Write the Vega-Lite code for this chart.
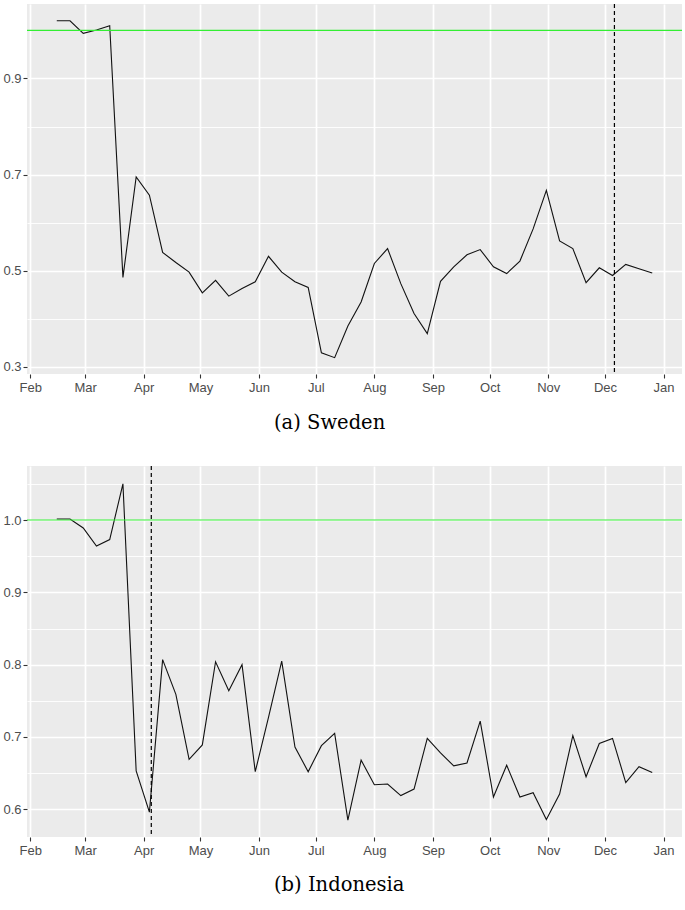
{
  "$schema": "https://vega.github.io/schema/vega-lite/v6.json",
  "background": "white",
  "padding": {"left": 2, "top": 3, "right": 3, "bottom": 5},
  "spacing": 32,
  "config": {
    "view": {"fill": "#EBEBEB", "stroke": null},
    "axis": {
      "domain": false,
      "labelColor": "#4D4D4D",
      "labelFont": "Liberation Sans",
      "labelFontSize": 13,
      "tickColor": "#333333",
      "tickSize": 4,
      "tickWidth": 1.1,
      "gridColor": "white",
      "labelPadding": 2,
      "labelOverlap": false,
      "labelFlush": false,
      "title": null
    },
    "title": {"font": "DejaVu Serif", "fontSize": 19.5, "fontWeight": "normal", "color": "black"}
  },
  "datasets": {
    "sweden": [
      {"date": "2020-02-15", "value": 1.020},
      {"date": "2020-02-22", "value": 1.020},
      {"date": "2020-02-29", "value": 0.994},
      {"date": "2020-03-07", "value": 1.001},
      {"date": "2020-03-14", "value": 1.010},
      {"date": "2020-03-21", "value": 0.486},
      {"date": "2020-03-28", "value": 0.695},
      {"date": "2020-04-04", "value": 0.657},
      {"date": "2020-04-11", "value": 0.538},
      {"date": "2020-04-18", "value": 0.517},
      {"date": "2020-04-25", "value": 0.497},
      {"date": "2020-05-02", "value": 0.454},
      {"date": "2020-05-09", "value": 0.480},
      {"date": "2020-05-16", "value": 0.447},
      {"date": "2020-05-23", "value": 0.463},
      {"date": "2020-05-30", "value": 0.477},
      {"date": "2020-06-06", "value": 0.530},
      {"date": "2020-06-13", "value": 0.497},
      {"date": "2020-06-20", "value": 0.477},
      {"date": "2020-06-27", "value": 0.465},
      {"date": "2020-07-04", "value": 0.329},
      {"date": "2020-07-11", "value": 0.319},
      {"date": "2020-07-18", "value": 0.385},
      {"date": "2020-07-25", "value": 0.435},
      {"date": "2020-08-01", "value": 0.515},
      {"date": "2020-08-08", "value": 0.546},
      {"date": "2020-08-15", "value": 0.473},
      {"date": "2020-08-22", "value": 0.411},
      {"date": "2020-08-29", "value": 0.369},
      {"date": "2020-09-05", "value": 0.478},
      {"date": "2020-09-12", "value": 0.508},
      {"date": "2020-09-19", "value": 0.533},
      {"date": "2020-09-26", "value": 0.544},
      {"date": "2020-10-03", "value": 0.508},
      {"date": "2020-10-10", "value": 0.494},
      {"date": "2020-10-17", "value": 0.520},
      {"date": "2020-10-24", "value": 0.587},
      {"date": "2020-10-31", "value": 0.667},
      {"date": "2020-11-07", "value": 0.562},
      {"date": "2020-11-14", "value": 0.546},
      {"date": "2020-11-21", "value": 0.475},
      {"date": "2020-11-28", "value": 0.506},
      {"date": "2020-12-05", "value": 0.490},
      {"date": "2020-12-12", "value": 0.513},
      {"date": "2020-12-19", "value": 0.504},
      {"date": "2020-12-26", "value": 0.495}
    ],
    "indonesia": [
      {"date": "2020-02-15", "value": 1.0015},
      {"date": "2020-02-22", "value": 1.0015},
      {"date": "2020-02-29", "value": 0.989},
      {"date": "2020-03-07", "value": 0.964},
      {"date": "2020-03-14", "value": 0.973},
      {"date": "2020-03-21", "value": 1.050},
      {"date": "2020-03-28", "value": 0.653},
      {"date": "2020-04-04", "value": 0.596},
      {"date": "2020-04-11", "value": 0.807},
      {"date": "2020-04-18", "value": 0.759},
      {"date": "2020-04-25", "value": 0.669},
      {"date": "2020-05-02", "value": 0.689},
      {"date": "2020-05-09", "value": 0.804},
      {"date": "2020-05-16", "value": 0.764},
      {"date": "2020-05-23", "value": 0.800},
      {"date": "2020-05-30", "value": 0.652},
      {"date": "2020-06-06", "value": 0.727},
      {"date": "2020-06-13", "value": 0.805},
      {"date": "2020-06-20", "value": 0.686},
      {"date": "2020-06-27", "value": 0.652},
      {"date": "2020-07-04", "value": 0.688},
      {"date": "2020-07-11", "value": 0.705},
      {"date": "2020-07-18", "value": 0.585},
      {"date": "2020-07-25", "value": 0.668},
      {"date": "2020-08-01", "value": 0.634},
      {"date": "2020-08-08", "value": 0.635},
      {"date": "2020-08-15", "value": 0.619},
      {"date": "2020-08-22", "value": 0.628},
      {"date": "2020-08-29", "value": 0.698},
      {"date": "2020-09-05", "value": 0.678},
      {"date": "2020-09-12", "value": 0.660},
      {"date": "2020-09-19", "value": 0.664},
      {"date": "2020-09-26", "value": 0.722},
      {"date": "2020-10-03", "value": 0.617},
      {"date": "2020-10-10", "value": 0.661},
      {"date": "2020-10-17", "value": 0.617},
      {"date": "2020-10-24", "value": 0.623},
      {"date": "2020-10-31", "value": 0.586},
      {"date": "2020-11-07", "value": 0.621},
      {"date": "2020-11-14", "value": 0.702},
      {"date": "2020-11-21", "value": 0.645},
      {"date": "2020-11-28", "value": 0.691},
      {"date": "2020-12-05", "value": 0.698},
      {"date": "2020-12-12", "value": 0.637},
      {"date": "2020-12-19", "value": 0.659},
      {"date": "2020-12-26", "value": 0.651}
    ]
  },
  "vconcat": [
    {
      "width": 655,
      "height": 370,
      "title": {"text": "(a) Sweden", "orient": "bottom", "anchor": "start", "frame": "group", "dx": 247, "offset": 20},
      "layer": [
        {
          "data": {"name": "sweden"},
          "mark": {"type": "line", "color": "#111111", "strokeWidth": 1.1},
          "encoding": {
            "x": {
              "field": "date", "type": "temporal", "title": null,
              "scale": {"type": "utc", "domain": [{"year": 2020, "month": 1, "date": 30, "hours": 6, "utc": true}, {"year": 2021, "month": 1, "date": 10, "hours": 18, "utc": true}]},
              "axis": {
                "values": [
                  {"year": 2020, "month": 2, "date": 1, "utc": true},
                  {"year": 2020, "month": 2, "date": 15, "hours": 12, "utc": true},
                  {"year": 2020, "month": 3, "date": 1, "utc": true},
                  {"year": 2020, "month": 3, "date": 16, "hours": 12, "utc": true},
                  {"year": 2020, "month": 4, "date": 1, "utc": true},
                  {"year": 2020, "month": 4, "date": 16, "utc": true},
                  {"year": 2020, "month": 5, "date": 1, "utc": true},
                  {"year": 2020, "month": 5, "date": 16, "hours": 12, "utc": true},
                  {"year": 2020, "month": 6, "date": 1, "utc": true},
                  {"year": 2020, "month": 6, "date": 16, "utc": true},
                  {"year": 2020, "month": 7, "date": 1, "utc": true},
                  {"year": 2020, "month": 7, "date": 16, "hours": 12, "utc": true},
                  {"year": 2020, "month": 8, "date": 1, "utc": true},
                  {"year": 2020, "month": 8, "date": 16, "hours": 12, "utc": true},
                  {"year": 2020, "month": 9, "date": 1, "utc": true},
                  {"year": 2020, "month": 9, "date": 16, "utc": true},
                  {"year": 2020, "month": 10, "date": 1, "utc": true},
                  {"year": 2020, "month": 10, "date": 16, "hours": 12, "utc": true},
                  {"year": 2020, "month": 11, "date": 1, "utc": true},
                  {"year": 2020, "month": 11, "date": 16, "utc": true},
                  {"year": 2020, "month": 12, "date": 1, "utc": true},
                  {"year": 2020, "month": 12, "date": 16, "hours": 12, "utc": true},
                  {"year": 2021, "month": 1, "date": 1, "utc": true}
                ],
                "labelExpr": "utcdate(datum.value) === 1 ? utcFormat(datum.value, '%b') : ''",
                "gridWidth": {"condition": {"test": "utcdate(datum.value) === 1", "value": 1.7}, "value": 0.9},
                "tickOpacity": {"condition": {"test": "utcdate(datum.value) === 1", "value": 1}, "value": 0},
                "labelPadding": 3
              }
            },
            "y": {
              "field": "value", "type": "quantitative", "title": null,
              "scale": {"domain": [0.285, 1.055], "nice": false, "zero": false},
              "axis": {
                "values": [0.3, 0.4, 0.5, 0.6, 0.7, 0.8, 0.9, 1.0],
                "format": ".1f",
                "labelExpr": "indexof([0.3, 0.5, 0.7, 0.9], datum.value) >= 0 ? datum.label : ''",
                "gridWidth": {"condition": {"test": "indexof([0.3, 0.5, 0.7, 0.9], datum.value) >= 0", "value": 1.7}, "value": 0.9},
                "tickOpacity": {"condition": {"test": "indexof([0.3, 0.5, 0.7, 0.9], datum.value) >= 0", "value": 1}, "value": 0}
              }
            }
          }
        },
        {
          "data": {"values": [{"value": 1.0}]},
          "mark": {"type": "rule", "color": "#33EE33", "strokeWidth": 1.2},
          "encoding": {"y": {"field": "value", "type": "quantitative", "title": null}}
        },
        {
          "data": {"values": [{"date": "2020-12-06"}]},
          "mark": {"type": "rule", "color": "black", "strokeWidth": 1.2, "strokeDash": [4, 3]},
          "encoding": {"x": {"field": "date", "type": "temporal", "title": null}}
        }
      ]
    },
    {
      "width": 655,
      "height": 371,
      "title": {"text": "(b) Indonesia", "orient": "bottom", "anchor": "start", "frame": "group", "dx": 247, "offset": 19},
      "layer": [
        {
          "data": {"name": "indonesia"},
          "mark": {"type": "line", "color": "#111111", "strokeWidth": 1.1},
          "encoding": {
            "x": {
              "field": "date", "type": "temporal", "title": null,
              "scale": {"type": "utc", "domain": [{"year": 2020, "month": 1, "date": 30, "hours": 6, "utc": true}, {"year": 2021, "month": 1, "date": 10, "hours": 18, "utc": true}]},
              "axis": {
                "values": [
                  {"year": 2020, "month": 2, "date": 1, "utc": true},
                  {"year": 2020, "month": 2, "date": 15, "hours": 12, "utc": true},
                  {"year": 2020, "month": 3, "date": 1, "utc": true},
                  {"year": 2020, "month": 3, "date": 16, "hours": 12, "utc": true},
                  {"year": 2020, "month": 4, "date": 1, "utc": true},
                  {"year": 2020, "month": 4, "date": 16, "utc": true},
                  {"year": 2020, "month": 5, "date": 1, "utc": true},
                  {"year": 2020, "month": 5, "date": 16, "hours": 12, "utc": true},
                  {"year": 2020, "month": 6, "date": 1, "utc": true},
                  {"year": 2020, "month": 6, "date": 16, "utc": true},
                  {"year": 2020, "month": 7, "date": 1, "utc": true},
                  {"year": 2020, "month": 7, "date": 16, "hours": 12, "utc": true},
                  {"year": 2020, "month": 8, "date": 1, "utc": true},
                  {"year": 2020, "month": 8, "date": 16, "hours": 12, "utc": true},
                  {"year": 2020, "month": 9, "date": 1, "utc": true},
                  {"year": 2020, "month": 9, "date": 16, "utc": true},
                  {"year": 2020, "month": 10, "date": 1, "utc": true},
                  {"year": 2020, "month": 10, "date": 16, "hours": 12, "utc": true},
                  {"year": 2020, "month": 11, "date": 1, "utc": true},
                  {"year": 2020, "month": 11, "date": 16, "utc": true},
                  {"year": 2020, "month": 12, "date": 1, "utc": true},
                  {"year": 2020, "month": 12, "date": 16, "hours": 12, "utc": true},
                  {"year": 2021, "month": 1, "date": 1, "utc": true}
                ],
                "labelExpr": "utcdate(datum.value) === 1 ? utcFormat(datum.value, '%b') : ''",
                "gridWidth": {"condition": {"test": "utcdate(datum.value) === 1", "value": 1.7}, "value": 0.9},
                "tickOpacity": {"condition": {"test": "utcdate(datum.value) === 1", "value": 1}, "value": 0},
                "labelPadding": 3
              }
            },
            "y": {
              "field": "value", "type": "quantitative", "title": null,
              "scale": {"domain": [0.5617, 1.0747], "nice": false, "zero": false},
              "axis": {
                "values": [0.6, 0.65, 0.7, 0.75, 0.8, 0.85, 0.9, 0.95, 1.0, 1.05],
                "format": ".1f",
                "labelExpr": "indexof([0.6, 0.7, 0.8, 0.9, 1.0], datum.value) >= 0 ? datum.label : ''",
                "gridWidth": {"condition": {"test": "indexof([0.6, 0.7, 0.8, 0.9, 1.0], datum.value) >= 0", "value": 1.7}, "value": 0.9},
                "tickOpacity": {"condition": {"test": "indexof([0.6, 0.7, 0.8, 0.9, 1.0], datum.value) >= 0", "value": 1}, "value": 0}
              }
            }
          }
        },
        {
          "data": {"values": [{"value": 1.0}]},
          "mark": {"type": "rule", "color": "#33EE33", "strokeWidth": 1.2},
          "encoding": {"y": {"field": "value", "type": "quantitative", "title": null}}
        },
        {
          "data": {"values": [{"date": "2020-04-05"}]},
          "mark": {"type": "rule", "color": "black", "strokeWidth": 1.2, "strokeDash": [4, 3]},
          "encoding": {"x": {"field": "date", "type": "temporal", "title": null}}
        }
      ]
    }
  ]
}
